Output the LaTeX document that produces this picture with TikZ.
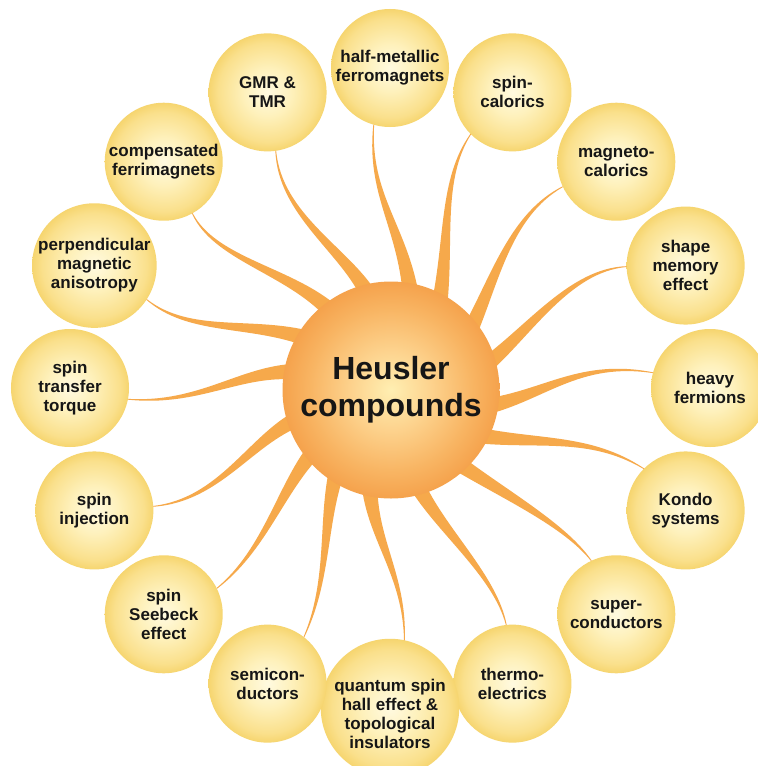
\documentclass[tikz,border=0pt]{standalone}
\usepackage{fontspec}
\setmainfont{Liberation Sans}
\usetikzlibrary{calc}

% palette
\definecolor{inkdark}{HTML}{161616}
\definecolor{ray}{HTML}{F6A94B}
\definecolor{bubA}{HTML}{FFFAE0}
\definecolor{bubB}{HTML}{FEF1BC}
\definecolor{bubC}{HTML}{FAE08C}
\definecolor{bubD}{HTML}{F6D56F}
\definecolor{hubA}{HTML}{FFEFB2}
\definecolor{hubB}{HTML}{FDD38E}
\definecolor{hubC}{HTML}{F8B462}
\definecolor{hubD}{HTML}{F5A24C}

% radial fills for the topic bubbles and the central hub
\pgfdeclareradialshading{bubshade}{\pgfpoint{0bp}{0bp}}{color(0bp)=(bubA); color(10bp)=(bubB); color(21bp)=(bubC); color(25bp)=(bubD); color(50bp)=(bubD)}
\pgfdeclareradialshading{hubshade}{\pgfpoint{0bp}{0bp}}{color(0bp)=(hubA); color(9bp)=(hubB); color(19bp)=(hubC); color(25bp)=(hubD); color(50bp)=(hubD)}

\tikzset{
  topic/.style={circle, minimum size=118bp, inner sep=0pt, outer sep=0pt,
    shade, shading=bubshade, align=center, text=inkdark,
    font=\bfseries\fontsize{17bp}{19bp}\selectfont},
  hubnode/.style={circle, minimum size=217bp, inner sep=0pt, outer sep=0pt,
    shade, shading=hubshade, align=center, text=inkdark,
    font=\bfseries\fontsize{32bp}{37bp}\selectfont},
  rayfill/.style={fill=ray},
}

% tapered curved ray: start, control 1, control 2, end
\newcommand\tentacle[4]{%
  \fill[rayfill]
    ($#1!8bp!90:#2$) .. controls ($#2!4.6bp!-90:#1$) and ($#3!2bp!90:#4$) .. ($#4!0.4bp!-90:#3$)
    -- ($#4!0.4bp!90:#3$) .. controls ($#3!2bp!-90:#4$) and ($#2!4.6bp!90:#1$) .. ($#1!8bp!-90:#2$)
    -- cycle;}

\begin{document}
\begin{tikzpicture}[x=1bp,y=1bp]
\useasboundingbox (0,0) rectangle (758,-766);
\fill[white] (0,0) rectangle (758,-766);
\clip (0,0) rectangle (758,-766);

\coordinate (ring) at (390,-388);
\coordinate (hubc) at (391,-390);

% topic bubbles placed on a ring, every 22.5 degrees
\node[topic] (hm) at ($(ring)+(90:320)$)     {half-metallic\\ferromagnets};
\node[topic] (sc) at ($(ring)+(67.5:320)$)   {spin-\\calorics};
\node[topic] (mc) at ($(ring)+(45:320)$)     {magneto-\\calorics};
\node[topic] (sm) at ($(ring)+(22.5:320)$)   {shape\\memory\\effect};
\node[topic] (hf) at ($(ring)+(0:320)$)      {heavy\\fermions};
\node[topic] (ko) at ($(ring)+(-22.5:320)$)  {Kondo\\systems};
\node[topic] (su) at ($(ring)+(-45:320)$)    {super-\\conductors};
\node[topic] (te) at ($(ring)+(-67.5:320)$)  {thermo-\\electrics};
\node[topic] (qs) at ($(ring)+(-90:320)$)    {\rule{0pt}{25bp}quantum spin\\hall effect \&\\topological\\insulators};
\node[topic] (sd) at ($(ring)+(-112.5:320)$) {semicon-\\ductors};
\node[topic] (se) at ($(ring)+(-135:320)$)   {spin\\Seebeck\\effect};
\node[topic] (si) at ($(ring)+(-157.5:320)$) {spin\\injection};
\node[topic] (st) at ($(ring)+(180:320)$)    {spin\\transfer\\torque};
\node[topic] (pm) at ($(ring)+(157.5:320)$)  {perpendicular\\magnetic\\anisotropy};
\node[topic] (cf) at ($(ring)+(135:320)$)    {compensated\\ferrimagnets};
\node[topic] (gt) at ($(ring)+(112.5:320)$)  {GMR \&\\TMR};

% roots of the rays, inside the hub
\foreach \nm/\ang in {r0/78, r1/60, r2/36, r3/14, r4/-10, r5/-28, r6/-48, r7/-75,
                      r8/-103, r9/-124, r10/-142, r11/197, r12/169, r13/148, r14/127, r15/103}
  \coordinate (\nm) at ($(hubc)+(\ang:96)$);

% rays from the hub to every bubble
\begin{scope}[on background layer/.try]
\tentacle{(r0)}{(402,-225)}{(368,-195)}{(hm.254)}
\tentacle{(r1)}{(450,-240)}{(440,-180)}{(sc.225)}
\tentacle{(r2)}{(495,-280)}{(510,-215)}{(mc.205)}
\tentacle{(r3)}{(530,-330)}{(570,-270)}{(sm.181)}
\tentacle{(r4)}{(545,-395)}{(580,-360)}{(hf.165)}
\tentacle{(r5)}{(540,-445)}{(590,-435)}{(ko.135)}
\tentacle{(r6)}{(505,-495)}{(565,-525)}{(su.115)}
\tentacle{(r7)}{(440,-530)}{(495,-575)}{(te.96)}
\tentacle{(r8)}{(372,-540)}{(405,-575)}{(qs.78)}
\tentacle{(r9)}{(322,-520)}{(330,-580)}{(sd.52)}
\tentacle{(r10)}{(280,-490)}{(265,-550)}{(se.26)}
\tentacle{(r11)}{(250,-440)}{(220,-500)}{(si.4)}
\tentacle{(r12)}{(240,-370)}{(200,-405)}{(st.349)}
\tentacle{(r13)}{(250,-320)}{(190,-335)}{(pm.327)}
\tentacle{(r14)}{(290,-270)}{(215,-260)}{(cf.299)}
\tentacle{(r15)}{(345,-250)}{(280,-215)}{(gt.278)}
\end{scope}

% central hub
\node[hubnode] (hub) at (hubc) {Heusler\\compounds};
\end{tikzpicture}
\end{document}
